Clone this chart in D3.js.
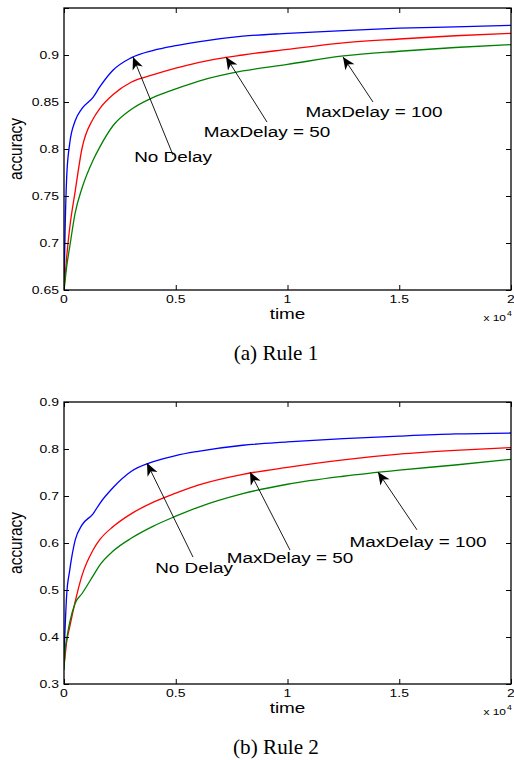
<!DOCTYPE html>
<html>
<head>
<meta charset="utf-8">
<script src="https://cdn.jsdelivr.net/npm/d3@7"></script>
<style>
    body { margin: 0; background: #fff; }
    svg { display: block; }
</style>
</head>
<body>
<div id="chart"></div>
<script>
// sample times (same for every curve)
const timeSteps = [0, 50, 120, 250, 500, 800, 1300, 1600, 2200, 3000, 4000, 5000, 6000, 8000, 10000, 12500, 15000, 17500, 20000];

// Rule 1
const rule1NoDelay = [0.65, 0.715, 0.770, 0.805, 0.830, 0.843, 0.855, 0.866, 0.884, 0.897, 0.905, 0.910, 0.914, 0.920, 0.923, 0.926, 0.9285, 0.930, 0.9316];
const rule1Delay50 = [0.65, 0.665, 0.685, 0.715, 0.755, 0.800, 0.832, 0.843, 0.858, 0.871, 0.879, 0.886, 0.892, 0.900, 0.906, 0.913, 0.917, 0.9205, 0.923];
const rule1Delay100 = [0.65, 0.660, 0.675, 0.695, 0.732, 0.758, 0.788, 0.802, 0.825, 0.842, 0.855, 0.864, 0.872, 0.883, 0.890, 0.899, 0.904, 0.908, 0.911];

// Rule 2
const rule2NoDelay = [0.36, 0.42, 0.49, 0.54, 0.606, 0.638, 0.662, 0.684, 0.718, 0.752, 0.773, 0.786, 0.795, 0.808, 0.815, 0.822, 0.8275, 0.832, 0.834];
const rule2Delay50 = [0.34, 0.36, 0.39, 0.42, 0.475, 0.530, 0.585, 0.607, 0.635, 0.662, 0.687, 0.706, 0.723, 0.746, 0.761, 0.777, 0.789, 0.797, 0.803];
const rule2Delay100 = [0.33, 0.372, 0.395, 0.43, 0.472, 0.492, 0.53, 0.553, 0.583, 0.610, 0.636, 0.657, 0.676, 0.705, 0.725, 0.742, 0.755, 0.766, 0.778];

const seriesColors = ["#0000ff", "#ff0000", "#008000"];

// axes
const xTicks = [0, 5000, 10000, 15000, 20000];
const xTickLabels = ["0", "0.5", "1", "1.5", "2"];
const rule1YTicks = [0.65, 0.7, 0.75, 0.8, 0.85, 0.9, 0.95];
const rule1YTickLabels = ["0.65", "0.7", "0.75", "0.8", "0.85", "0.9", ""];
const rule2YTicks = [0.3, 0.4, 0.5, 0.6, 0.7, 0.8, 0.9];
const rule2YTickLabels = ["0.3", "0.4", "0.5", "0.6", "0.7", "0.8", "0.9"];

// annotations: label, arrow tip [time, acc], arrow tail [time, acc], text anchor [time, acc]
const noteLabels = ["No Delay", "MaxDelay = 50", "MaxDelay = 100"];
const rule1NoteTips = [[3087, 0.898], [7248, 0.898], [12483, 0.898]];
const rule1NoteTails = [[4877, 0.7936], [9083, 0.8287], [13826, 0.850]];
const rule1NoteText = [[4877, 0.786], [9083, 0.8128], [13870, 0.834]];
const rule2NoteTips = [[3714, 0.770], [8322, 0.751], [14049, 0.751]];
const rule2NoteTails = [[5772, 0.570], [10112, 0.585], [15794, 0.628]];
const rule2NoteText = [[5817, 0.536], [10112, 0.557], [15840, 0.591]];

const width = 514;
const height = 760;
const sansFont = "'Liberation Sans', Arial, Helvetica, sans-serif";
const serifFont = "'Liberation Serif', 'Times New Roman', serif";
const stretch = 1.22;     // the original figure is a little wider than tall
const tickStretch = 1.33;

const svg = d3.select("#chart").append("svg")
    .attr("width", width)
    .attr("height", height);

svg.append("rect").attr("width", width).attr("height", height).attr("fill", "#fff");

const defs = svg.append("defs");
defs.append("marker")
    .attr("id", "head")
    .attr("markerUnits", "userSpaceOnUse")
    .attr("viewBox", "-14 -7 15 14")
    .attr("refX", 0)
    .attr("refY", 0)
    .attr("markerWidth", 15)
    .attr("markerHeight", 14)
    .attr("orient", "auto")
    .append("path")
    .attr("d", "M0,0 L-12.5,-5.5 L-9,0 L-12.5,5.5 Z")
    .attr("fill", "#000");

// helper for horizontally stretched text
function addText(g, x, y, str, size, anchor, sx, family) {
    return g.append("text")
        .attr("transform", `translate(${x},${y}) scale(${sx},1)`)
        .attr("text-anchor", anchor)
        .attr("font-family", family || sansFont)
        .attr("font-size", size)
        .attr("fill", "#000")
        .text(str);
}

function drawPanel(opts) {
    const left = 64, right = 511;
    const top = opts.top, bottom = opts.top + 282;

    const x = d3.scaleLinear().domain([0, 20000]).range([left, right]);
    const y = d3.scaleLinear().domain(opts.yDomain).range([bottom, top]);

    const g = svg.append("g");

    const clipId = "clip" + opts.id;
    defs.append("clipPath").attr("id", clipId)
        .append("rect")
        .attr("x", left).attr("y", top)
        .attr("width", right - left).attr("height", bottom - top);

    // curves
    const line = d3.line()
        .x((d, i) => x(timeSteps[i]))
        .y(d => y(d))
        .curve(d3.curveMonotoneX);

    g.append("g").attr("clip-path", `url(#${clipId})`)
        .selectAll("path")
        .data(opts.series)
        .join("path")
        .attr("d", d => line(d))
        .attr("fill", "none")
        .attr("stroke", (d, i) => seriesColors[i])
        .attr("stroke-width", 1.3);

    // axes (matlab style box with inward ticks)
    const axisStyle = sel => {
        sel.select(".domain").remove();
        sel.selectAll(".tick line").attr("stroke", "#000").attr("stroke-width", 1);
        sel.selectAll(".tick text").remove();
    };
    g.append("g").attr("transform", `translate(0,${bottom})`)
        .call(d3.axisBottom(x).tickValues(xTicks).tickSize(-5)).call(axisStyle);
    g.append("g").attr("transform", `translate(0,${top})`)
        .call(d3.axisTop(x).tickValues(xTicks).tickSize(-5)).call(axisStyle);
    g.append("g").attr("transform", `translate(${left},0)`)
        .call(d3.axisLeft(y).tickValues(opts.yTicks).tickSize(-5)).call(axisStyle);
    g.append("g").attr("transform", `translate(${right},0)`)
        .call(d3.axisRight(y).tickValues(opts.yTicks).tickSize(-5)).call(axisStyle);

    g.append("rect")
        .attr("x", left).attr("y", top)
        .attr("width", right - left).attr("height", bottom - top)
        .attr("fill", "none")
        .attr("stroke", "#000")
        .attr("stroke-width", 1.3);

    // tick labels
    xTicks.forEach((t, i) => addText(g, x(t), bottom + 13, xTickLabels[i], 10.5, "middle", tickStretch));
    opts.yTicks.forEach((v, i) => {
        if (opts.yTickLabels[i]) addText(g, left - 5, y(v) + 3.8, opts.yTickLabels[i], 10.5, "end", tickStretch);
    });

    // exponent
    addText(g, 506, bottom + 31, "x 10", 9, "end", tickStretch);
    addText(g, 507, bottom + 26, "4", 6.5, "start", tickStretch);

    // axis titles
    addText(g, (left + right) / 2, bottom + 29, "time", 15.5, "middle", stretch);
    g.append("text")
        .attr("transform", `translate(22,${(top + bottom) / 2}) scale(${stretch},1) rotate(-90)`)
        .attr("text-anchor", "middle")
        .attr("font-family", sansFont)
        .attr("font-size", 15.5)
        .text("accuracy");

    // annotations
    noteLabels.forEach((label, i) => {
        const tip = opts.tips[i], tail = opts.tails[i], pos = opts.textPos[i];
        g.append("line")
            .attr("x1", x(tail[0])).attr("y1", y(tail[1]))
            .attr("x2", x(tip[0])).attr("y2", y(tip[1]))
            .attr("stroke", "#000")
            .attr("stroke-width", 0.9)
            .attr("marker-end", "url(#head)");
        addText(g, x(pos[0]), y(pos[1]), label, 15.5, "middle", stretch);
    });

    // caption
    addText(g, 276, bottom + 70, opts.caption, 20, "middle", 1.06, serifFont);
}

drawPanel({
    id: 1, top: 8, yDomain: [0.65, 0.95],
    yTicks: rule1YTicks, yTickLabels: rule1YTickLabels,
    series: [rule1NoDelay, rule1Delay50, rule1Delay100],
    tips: rule1NoteTips, tails: rule1NoteTails, textPos: rule1NoteText,
    caption: "(a)  Rule 1"
});

drawPanel({
    id: 2, top: 402, yDomain: [0.3, 0.9],
    yTicks: rule2YTicks, yTickLabels: rule2YTickLabels,
    series: [rule2NoDelay, rule2Delay50, rule2Delay100],
    tips: rule2NoteTips, tails: rule2NoteTails, textPos: rule2NoteText,
    caption: "(b)  Rule 2"
});
</script>
</body>
</html>
